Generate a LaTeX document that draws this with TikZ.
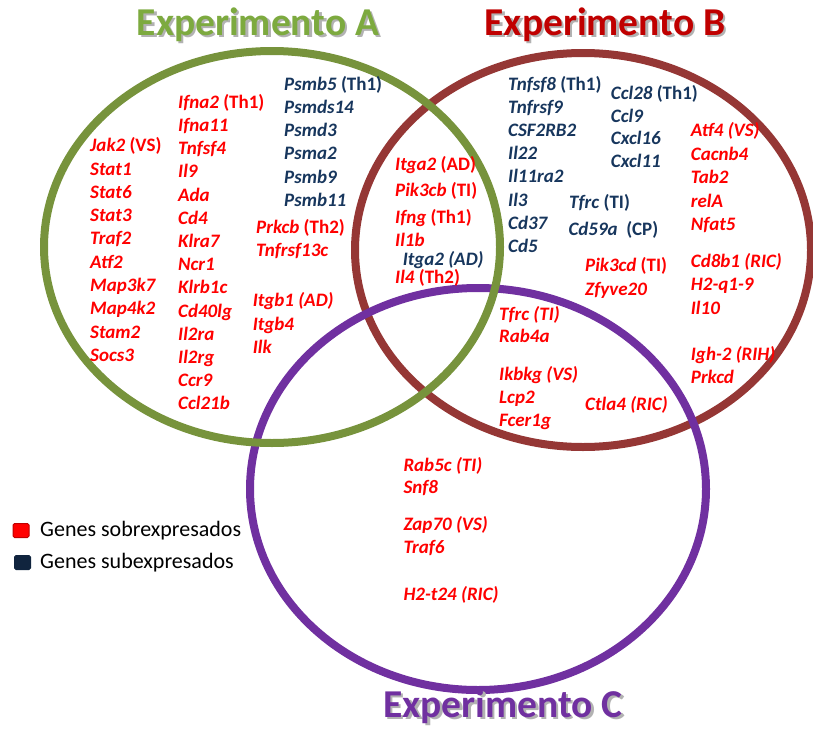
\documentclass[tikz,border=0pt]{standalone}
\usepackage{fontspec}
\setmainfont{Carlito}

\definecolor{ringA}{HTML}{77933C}
\definecolor{ringB}{HTML}{953735}
\definecolor{ringC}{HTML}{7030A0}
\definecolor{titA}{HTML}{7DAA3F}
\definecolor{titB}{HTML}{C00000}
\definecolor{titC}{HTML}{7030A0}
\definecolor{genred}{HTML}{FF0000}
\definecolor{genblue}{HTML}{17365D}
\definecolor{legblue}{HTML}{10243E}

\newcommand{\tagup}[1]{\textup{#1}}
\newcommand{\shadowed}[1]{\rlap{\kern2.5pt\raisebox{-2.5pt}{\color{black!30}#1}}#1}

\begin{document}
\begin{tikzpicture}[x=1pt,y=-1pt]

\tikzset{ring/.style = {line width=8pt}}
\tikzset{gene/.style = {anchor=base west, inner sep=0pt, font=\fontsize{19}{23}\selectfont\bfseries\itshape}}
\tikzset{redgene/.style = {gene, text=genred}}
\tikzset{bluegene/.style = {gene, text=genblue}}
\tikzset{title/.style = {anchor=base, inner sep=0pt, font=\fontsize{39.5}{44}\selectfont\bfseries}}
\tikzset{legbox/.style = {draw, line width=1pt, rounded corners=1.5pt, minimum width=16pt, minimum height=14pt, inner sep=0pt}}
\tikzset{legtext/.style = {anchor=base west, inner sep=0pt, font=\fontsize{22}{24}\selectfont}}

\useasboundingbox (0,0) rectangle (813,728);

%rings
\draw[ring, ringB] (583,250) ellipse [x radius=228pt, y radius=197pt];
\draw[ring, ringC] (478,489) ellipse [x radius=228pt, y radius=201pt];
\draw[ring, ringA] (272,247) ellipse [x radius=228pt, y radius=196pt];

%titles
\node[title, text=titA] (tA) at (258,35) {\shadowed{Experimento A}};
\node[title, text=titB] (tB) at (605,35) {\shadowed{Experimento B}};
\node[title, text=titC] (tC) at (503,717) {\shadowed{Experimento C}};

%only A
\foreach \g [count=\i] in {Jak2 \tagup{(VS)}, Stat1, Stat6, Stat3, Traf2, Atf2, Map3k7, Map4k2, Stam2, Socs3}
  \node[redgene] (a\i) at (90,{151.7+23.3*(\i-1)}) {\g};
\foreach \g [count=\i] in {Ifna2 \tagup{(Th1)}, Ifna11, Tnfsf4, Il9, Ada, Cd4, Klra7, Ncr1, Klrb1c, Cd40lg, Il2ra, Il2rg, Ccr9, Ccl21b}
  \node[redgene] (aa\i) at (178,{108.3+23.2*(\i-1)}) {\g};
\foreach \g [count=\i] in {Psmb5 \tagup{(Th1)}, Psmds14, Psmd3, Psma2, Psmb9, Psmb11}
  \node[bluegene] (ab\i) at (284,{90+23.3*(\i-1)}) {\g};
\node[redgene] (prkcb) at (256,233.3) {Prkcb \tagup{(Th2)}};
\node[redgene] (tnfrsf) at (256,256.7) {Tnfrsf13c};
\foreach \g [count=\i] in {Itgb1 (AD), Itgb4, Ilk}
  \node[redgene] (ac\i) at (252.7,{306.7+23.3*(\i-1)}) {\g};

%A and B
\node[redgene] (itga2) at (395,170) {Itga2 \tagup{(AD)}};
\node[redgene] (pik3cb) at (395,196.7) {Pik3cb \tagup{(TI)}};
\node[redgene] (ifng) at (395,223.3) {Ifng \tagup{(Th1)}};
\node[redgene] (il1b) at (395,246.7) {Il1b};
\node[bluegene] (itga2b) at (402.7,265) {Itga2 (AD)};
\node[redgene] (il4) at (395,283.3) {Il4 \tagup{(Th2)}};

%only B
\foreach \g [count=\i] in {Tnfsf8 \tagup{(Th1)}, Tnfrsf9, CSF2RB2, Il22, Il11ra2, Il3, Cd37, Cd5}
  \node[bluegene] (b\i) at (508,{90+23.24*(\i-1)}) {\g};
\foreach \g [count=\i] in {Ccl28 \tagup{(Th1)}, Ccl9, Cxcl16, Cxcl11}
  \node[bluegene] (bb\i) at (610.7,{99.3+22.8*(\i-1)}) {\g};
\node[bluegene] (tfrcb) at (569,208.3) {Tfrc \tagup{(TI)}};
\node[bluegene] (cd59a) at (568.3,235) {Cd59a\ \ \tagup{(CP)}};
\foreach \g [count=\i] in {Atf4 (VS), Cacnb4, Tab2, relA, Nfat5}
  \node[redgene] (bc\i) at (690.7,{136.7+23.5*(\i-1)}) {\g};
\foreach \g [count=\i] in {Cd8b1 (RIC), H2-q1-9, Il10}
  \node[redgene] (bd\i) at (690.7,{267.7+23.2*(\i-1)}) {\g};
\node[redgene] (igh2) at (690.7,360) {Igh-2 (RIH)};
\node[redgene] (prkcd) at (690.7,383.3) {Prkcd};
\node[redgene] (pik3cd) at (585,271.7) {Pik3cd \tagup{(TI)}};
\node[redgene] (zfyve) at (585,295) {Zfyve20};

%B and C
\node[redgene] (tfrc) at (499,320) {Tfrc (TI)};
\node[redgene] (rab4a) at (499,342.7) {Rab4a};
\foreach \g [count=\i] in {Ikbkg (VS), Lcp2, Fcer1g}
  \node[redgene] (bcc\i) at (499,{380+23.3*(\i-1)}) {\g};
\node[redgene] (ctla4) at (585,410.7) {Ctla4 (RIC)};

%only C
\node[redgene] (rab5c) at (403.3,471.7) {Rab5c (TI)};
\node[redgene] (snf8) at (403.3,493.3) {Snf8};
\node[redgene] (zap70) at (403.3,530) {Zap70 (VS)};
\node[redgene] (traf6) at (403.3,553.3) {Traf6};
\node[redgene] (h2t24) at (403.3,600) {H2-t24 (RIC)};

%legend
\node[legbox, fill=genred, draw=titB] (sq1) at (21,530.5) {};
\node[legtext] (lg1) at (40,536) {Genes sobrexpresados};
\node[legbox, fill=legblue, draw=legblue] (sq2) at (22.5,562.5) {};
\node[legtext] (lg2) at (40,568) {Genes subexpresados};

\end{tikzpicture}
\end{document}
